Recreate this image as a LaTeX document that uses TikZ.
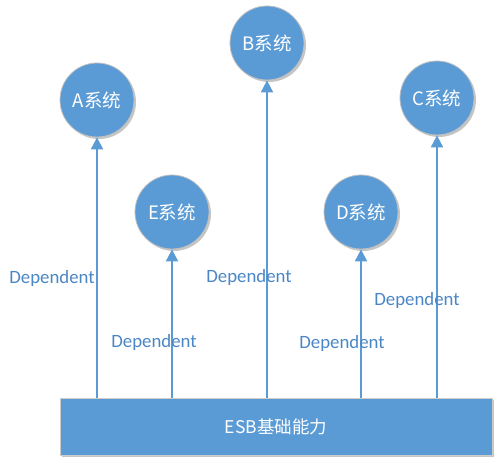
\documentclass[tikz,border=0pt]{standalone}
\usepackage{fontspec}
\setmainfont{Carlito}
\newfontfamily\cjk{Noto Sans CJK SC}
\usetikzlibrary{arrows.meta,shadows}
\definecolor{esbblue}{HTML}{5B9BD5}
\definecolor{labelblue}{HTML}{4A86C5}
\tikzset{
  sysnode/.style={circle,fill=esbblue,draw=black!25,line width=0.8pt,minimum size=74pt,inner sep=0pt,
    text=white,font=\cjk\fontsize{18.5}{20}\selectfont,
    drop shadow={shadow xshift=2pt,shadow yshift=-2pt,fill=black!45,opacity=.5}},
  basenode/.style={rectangle,fill=esbblue,draw=black!20,line width=0.8pt,minimum width=432pt,minimum height=57pt,
    text=white,font=\cjk\fontsize{17.5}{20}\selectfont,
    drop shadow={shadow xshift=2pt,shadow yshift=-2pt,fill=black!45,opacity=.5}},
  dep/.style={draw=esbblue,line width=2pt,-{Triangle[width=12pt,length=12pt]}},
  deplabel/.style={text=labelblue,font=\fontsize{18.8}{22}\selectfont,inner sep=0pt}
}
\begin{document}
\begin{tikzpicture}[x=1pt,y=-1pt]
  \useasboundingbox (0,0) rectangle (502,465);
  % 底层 ESB
  \node[basenode] (esb) at (276,426.5) {ESB基础能力};
  % 各系统
  \node[sysnode] (sysA) at (97,100) {A系统};
  \node[sysnode] (sysB) at (267,43) {B系统};
  \node[sysnode] (sysC) at (437,98) {C系统};
  \node[sysnode] (sysE) at (172,212) {E系统};
  \node[sysnode] (sysD) at (361,212) {D系统};
  % 依赖箭头
  \draw[dep] (esb.north -| sysA) -- (sysA.south);
  \draw[dep] (esb.north -| sysE) -- (sysE.south);
  \draw[dep] (esb.north -| sysB) -- (sysB.south);
  \draw[dep] (esb.north -| sysD) -- (sysD.south);
  \draw[dep] (esb.north -| sysC) -- (sysC.south);
  % 标签
  \node[deplabel] (labA) at (52,278) {Dependent};
  \node[deplabel] (labE) at (154,342) {Dependent};
  \node[deplabel] (labB) at (249,277) {Dependent};
  \node[deplabel] (labD) at (342,343) {Dependent};
  \node[deplabel] (labC) at (417,300) {Dependent};
\end{tikzpicture}
\end{document}
